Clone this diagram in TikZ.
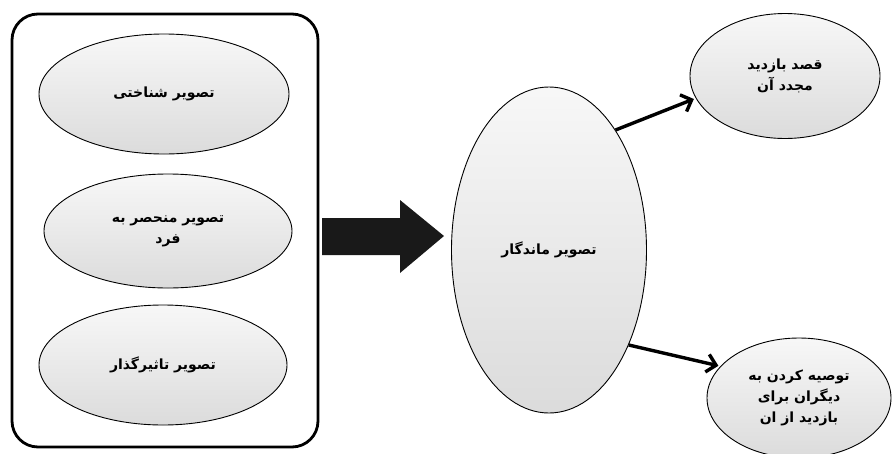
\documentclass[tikz,border=0pt]{standalone}
\usepackage{fontspec}
\usetikzlibrary{shapes.geometric,arrows.meta}
\TeXXeTstate=1
\newfontfamily\arabicfont[Script=Arabic]{DejaVu Sans}
\newcommand{\rl}[1]{\beginR #1\endR}
\tikzset{
  oval/.style={ellipse, draw=black, line width=0.9pt, top color=gray!6, bottom color=gray!28,
    inner sep=0pt, font=\arabicfont\bfseries\fontsize{14}{21}\selectfont, align=center},
  link/.style={line width=3.4pt, -{Straight Barb[length=9pt,width=18pt,line width=3.4pt]}, shorten >=2pt}
}
\begin{document}
\begin{tikzpicture}[x=1pt,y=-1pt]
\useasboundingbox (0,0) rectangle (892,453);
\fill[white] (0,0) rectangle (892,453);
% left group box
\draw[line width=2.8pt, rounded corners=26pt] (12,14) rectangle (318,447);
\node[oval, minimum width=250, minimum height=120] (a) at (164,94) {\rl{تصویر شناختی}};
\node[oval, minimum width=248, minimum height=114] (b) at (168,231) {\rl{تصویر منحصر به}\\\rl{فرد}};
\node[oval, minimum width=248, minimum height=120] (c) at (163,365) {\rl{تصویر تاثیرگذار}};
% block arrow
\fill[black!90] (322,218) -- (400,218) -- (400,200) -- (444,236) -- (400,273) -- (400,255) -- (322,255) -- cycle;
% central
\node[oval, minimum width=195, minimum height=326] (m) at (549,250) {\rl{تصویر ماندگار}};
\node[oval, minimum width=190, minimum height=125] (r1) at (785,76) {\rl{قصد بازدید}\\\rl{مجدد آن}};
\node[oval, minimum width=184, minimum height=120] (r2) at (799,398) {\rl{توصیه کردن به}\\\rl{دیگران برای}\\\rl{بازدید از ان}};
\draw[link] (m.61) -- (r1.194);
\draw[link] (m.-50) -- (r2.158);
\end{tikzpicture}
\end{document}
